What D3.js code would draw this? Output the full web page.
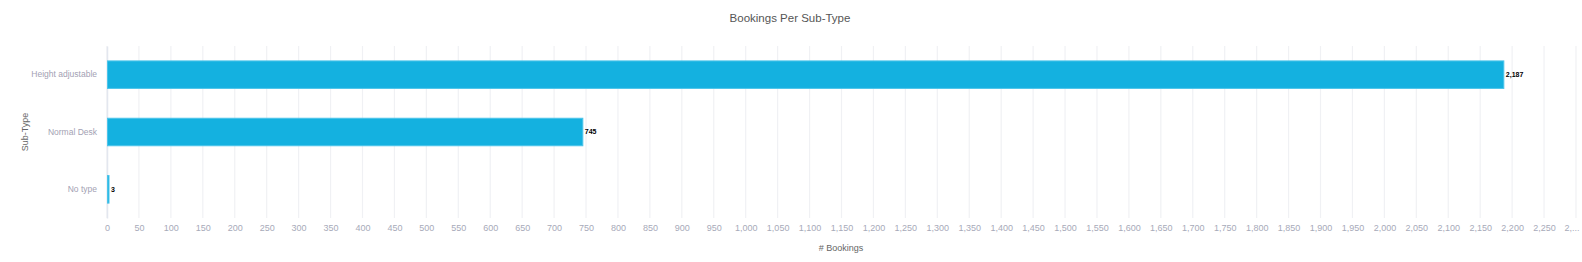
<!DOCTYPE html>
<html>
<head>
<meta charset="utf-8">
<script src="https://cdn.jsdelivr.net/npm/d3@7"></script>
<style>
  body { margin: 0; background: #fff; }
  text { font-family: "Liberation Sans", Arial, sans-serif; }
</style>
</head>
<body>
<div id="chart"></div>
<script>
// Datos
// =====
var subTypes = ["Height adjustable", "Normal Desk", "No type"];
var bookings = [2187, 745, 3];
var xTicks = d3.range(0, 2301, 50);

// Dimensiones
// ===========
var W = 1582, H = 262;
var margin = { top: 46, right: 6, bottom: 44, left: 107 },
  width = W - margin.left - margin.right,
  height = H - margin.top - margin.bottom;

var svg = d3.select("#chart")
  .append("svg")
  .attr("width", W)
  .attr("height", H);

var g = svg.append("g")
  .attr("transform", "translate(" + margin.left + "," + margin.top + ")");

var data = subTypes.map(function(s, i) { return { name: s, value: bookings[i] } });

// Escalas
var x = d3.scaleLinear().domain([0, 2300]).range([0, 1469]);
var y = d3.scaleBand().domain(subTypes).range([0, height])
  .paddingInner(0.52).paddingOuter(0.26);

// Grid
g.selectAll(".grid")
  .data(xTicks)
  .enter().append("line")
  .attr("x1", function(d) { return x(d) })
  .attr("x2", function(d) { return x(d) })
  .attr("y1", 0)
  .attr("y2", height)
  .attr("stroke", "#f0f1f4")
  .attr("stroke-width", 1.2);

// Eje X
var xAxis = g.append("g")
  .attr("transform", "translate(0," + height + ")")
  .call(d3.axisBottom(x).tickValues(xTicks).tickSize(0).tickPadding(7)
    .tickFormat(function(d) { return d == 2300 ? "2,..." : d3.format(",")(d) }));
xAxis.select(".domain").remove();
xAxis.selectAll("text")
  .attr("fill", "#a7aab9")
  .style("font-size", "9px");
// la ultima etiqueta queda recortada en el original
xAxis.selectAll(".tick").filter(function(d) { return d == 2300 })
  .select("text")
  .attr("text-anchor", "end")
  .attr("x", 3);

// Eje Y
var yAxis = g.append("g")
  .call(d3.axisLeft(y).tickSize(0).tickPadding(10));
yAxis.select(".domain").attr("stroke", "#e3e7ef").attr("stroke-width", 1.5);
yAxis.selectAll("text")
  .attr("fill", "#a39fb3")
  .style("font-size", "8.5px");

// Barras
g.selectAll(".bar")
  .data(data)
  .enter().append("rect")
  .attr("x", x(0) + 0.5)
  .attr("y", function(d) { return y(d.name) })
  .attr("width", function(d) { return Math.max(x(d.value) - 0.5, 1.5) })
  .attr("height", y.bandwidth())
  .attr("fill", "#14b1e0")
  .attr("stroke", "#4cc4ea")
  .attr("stroke-width", 1);

// Etiquetas de valor
g.selectAll(".lbl")
  .data(data)
  .enter().append("text")
  .attr("x", function(d) { return x(d.value) + 2 })
  .attr("y", function(d) { return y(d.name) + y.bandwidth() / 2 })
  .attr("dy", "0.35em")
  .attr("fill", "#000")
  .style("font-size", "7px")
  .style("font-weight", "bold")
  .text(function(d) { return d3.format(",")(d.value) });

// Titulos
svg.append("text")
  .attr("x", 790)
  .attr("y", 22)
  .attr("text-anchor", "middle")
  .attr("fill", "#555")
  .style("font-size", "11.5px")
  .text("Bookings Per Sub-Type");

svg.append("text")
  .attr("x", 841)
  .attr("y", 251)
  .attr("text-anchor", "middle")
  .attr("fill", "#666")
  .style("font-size", "9px")
  .text("# Bookings");

svg.append("text")
  .attr("transform", "translate(28," + (margin.top + height / 2) + ") rotate(-90)")
  .attr("text-anchor", "middle")
  .attr("fill", "#666")
  .style("font-size", "9px")
  .text("Sub-Type");
</script>
</body>
</html>
